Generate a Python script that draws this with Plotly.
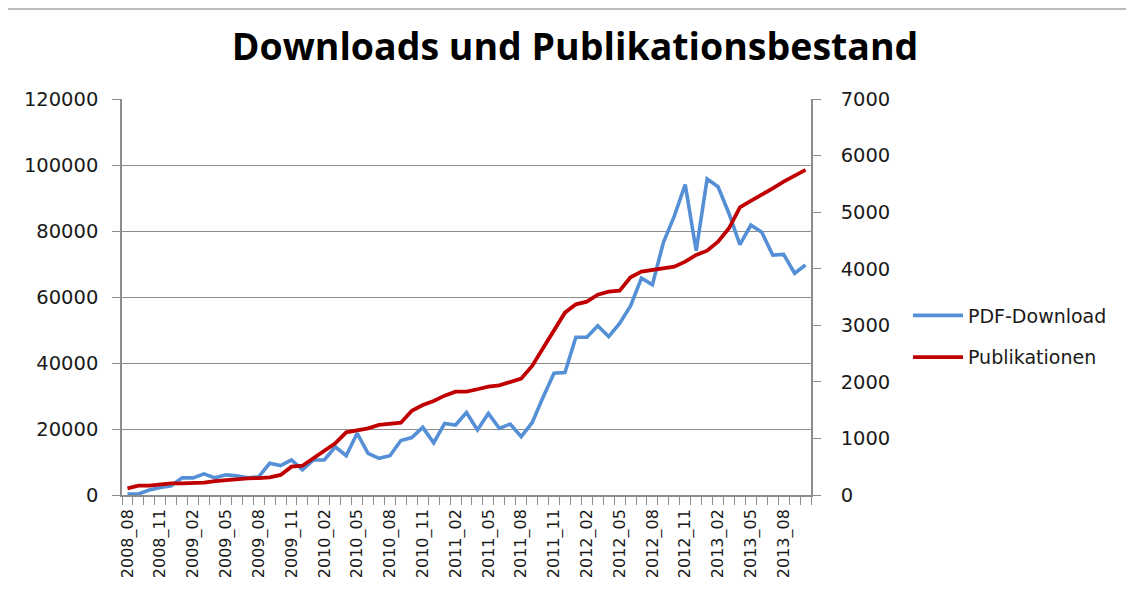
import plotly.graph_objects as go

categories = []
for yr in range(2008, 2014):
    for m in range(1, 13):
        if (yr == 2008 and m < 8) or (yr == 2013 and m > 10):
            continue
        categories.append(f"{yr}_{m:02d}")

pdf_downloads = [300, 300, 1500, 2300, 2800, 5200, 5200, 6400, 5200, 6100,
                 5800, 5200, 5500, 9600, 8900, 10600, 7600, 10600, 10600, 14600,
                 11900, 18700, 12600, 11100, 11900, 16500, 17400, 20500, 15800, 21700,
                 21200, 25000, 19700, 24700, 20200, 21500, 17700, 21900, 29600, 36900,
                 37100, 47800, 47800, 51300, 48000, 52000, 57300, 65700, 63700, 76500,
                 84500, 94100, 74000, 95800, 93400, 85300, 75900, 81800, 79600, 72700,
                 72900, 67200, 69700]

publikationen = [118, 164, 164, 189, 206, 206, 206, 218, 247, 265,
                 277, 295, 300, 312, 354, 500, 518, 648, 766, 914,
                 1108, 1137, 1179, 1238, 1250, 1278, 1490, 1591, 1662, 1756,
                 1826, 1826, 1869, 1915, 1939, 2004, 2057, 2281, 2593, 2935,
                 3223, 3371, 3418, 3541, 3595, 3612, 3849, 3949, 3978, 4019,
                 4037, 4125, 4243, 4319, 4479, 4715, 5086, 5198, 5304, 5422,
                 5540, 5640, 5746]

tick_labels = [c if i % 3 == 0 else "" for i, c in enumerate(categories)]

GRAY = "#8c8c8c"
TICKFONT = dict(family="DejaVu Sans", size=19.5, color="#1a1a1a")

# page body has an 8px margin; compensate so the plot area sits at x 122-811, y 99-495
OFFX, OFFY = 8, 8
W, H = 1134 - OFFX, 596 - OFFY
L, T = 122 - OFFX, 99 - OFFY
PW, PH = 689, 396

fig = go.Figure()
fig.add_trace(go.Scatter(x=categories, y=pdf_downloads, mode="lines", name="PDF-Download",
                         line=dict(color="#5590d6", width=3.6), legendgroup="a"))
fig.add_trace(go.Scatter(x=categories, y=publikationen, mode="lines", name="Publikationen",
                         line=dict(color="#c00000", width=3.8), yaxis="y2", legendgroup="b"))

fig.update_layout(
    width=W, height=H,
    margin=dict(l=L, r=W - L - PW, t=T, b=H - T - PH, autoexpand=False),
    paper_bgcolor="white", plot_bgcolor="white",
    title=dict(text="<b>Downloads und Publikationsbestand</b>",
               font=dict(family="Open Sans", size=37.5, color="black"),
               x=(575 - OFFX) / W, xref="container", xanchor="center",
               y=1 - (47 - OFFY) / H, yref="container", yanchor="middle"),
    xaxis=dict(type="category", range=[-0.5, len(categories) - 0.5],
               tickmode="array", tickvals=categories, ticktext=tick_labels,
               tickangle=-90, tickson="boundaries", ticks="outside", ticklen=8,
               tickcolor=GRAY, showline=True, linecolor=GRAY, linewidth=1.5,
               showgrid=False, tickfont=dict(family="DejaVu Sans", size=16, color="#1a1a1a"),
               ticklabelstandoff=6),
    yaxis=dict(range=[0, 120000], dtick=20000, tickformat="d", showgrid=True,
               gridcolor=GRAY, gridwidth=1.2, showline=True, linecolor=GRAY, linewidth=1.5,
               ticks="outside", ticklen=8, tickcolor=GRAY, zeroline=False,
               tickfont=TICKFONT, ticklabelstandoff=10),
    yaxis2=dict(range=[0, 7000], dtick=1000, tickformat="d", overlaying="y", side="right",
                showgrid=False, showline=True, linecolor=GRAY, linewidth=1.5,
                ticks="outside", ticklen=8, tickcolor=GRAY, zeroline=False,
                tickfont=TICKFONT, ticklabelstandoff=16),
    legend=dict(x=(908 - 122) / PW, xanchor="left", y=(495 - 336.5) / PH, yanchor="middle",
                font=dict(family="DejaVu Sans", size=19, color="#1a1a1a"),
                tracegroupgap=14, itemwidth=50, bgcolor="rgba(0,0,0,0)"),
    shapes=[
        dict(type="line", xref="paper", yref="paper",
             x0=(3 - 122) / PW, x1=(1134 - 122) / PW, y0=(495 - 9) / PH, y1=(495 - 9) / PH,
             line=dict(color="#a6a6a6", width=1.5)),
        dict(type="line", xref="paper", yref="paper",
             x0=(3 - 122) / PW, x1=(3 - 122) / PW, y0=(495 - 9) / PH, y1=(495 - 600) / PH,
             line=dict(color="#a6a6a6", width=1.5)),
    ],
)

fig.write_html("out.html")
